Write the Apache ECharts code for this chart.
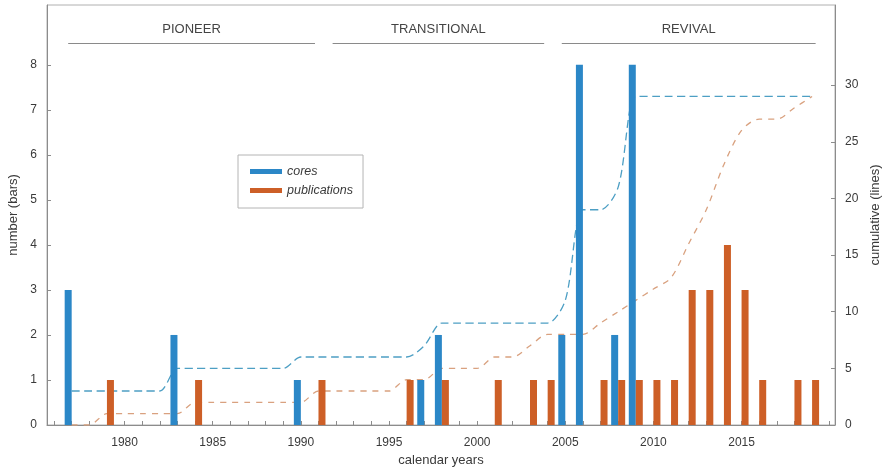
<!DOCTYPE html>
<html>
<head>
<meta charset="utf-8">
<script src="https://cdn.jsdelivr.net/npm/echarts@6/dist/echarts.min.js"></script>
<style>
  html, body { margin: 0; padding: 0; background: #ffffff; }
  #chart { width: 883px; height: 468px; }
</style>
</head>
<body>
<div id="chart"></div>
<script>
// Annual counts (bars)
const coreYears  = [1977, 1983, 1990, 1997, 1998, 2005, 2006, 2008, 2009];
const coreCounts = [3, 2, 1, 1, 2, 2, 8, 2, 8];

const pubYears  = [1979, 1984, 1991, 1996, 1998, 2001, 2003, 2004, 2007, 2008,
                   2009, 2010, 2011, 2012, 2013, 2014, 2015, 2016, 2018, 2019];
const pubCounts = [1, 1, 1, 1, 1, 1, 1, 1, 1, 1,
                   1, 1, 1, 3, 3, 4, 3, 1, 1, 1];

// Running totals (dashed lines), one value per year 1977–2019
const cumYears = [1977, 1978, 1979, 1980, 1981, 1982, 1983, 1984, 1985, 1986,
                  1987, 1988, 1989, 1990, 1991, 1992, 1993, 1994, 1995, 1996,
                  1997, 1998, 1999, 2000, 2001, 2002, 2003, 2004, 2005, 2006,
                  2007, 2008, 2009, 2010, 2011, 2012, 2013, 2014, 2015, 2016,
                  2017, 2018, 2019];
const coresCumulative = [3, 3, 3, 3, 3, 3, 5, 5, 5, 5,
                         5, 5, 5, 6, 6, 6, 6, 6, 6, 6,
                         7, 9, 9, 9, 9, 9, 9, 9, 11, 19,
                         19, 21, 29, 29, 29, 29, 29, 29, 29, 29,
                         29, 29, 29];
const pubsCumulative  = [0, 0, 1, 1, 1, 1, 1, 2, 2, 2,
                         2, 2, 2, 2, 3, 3, 3, 3, 3, 4,
                         4, 5, 5, 5, 6, 6, 7, 8, 8, 8,
                         9, 10, 11, 12, 13, 16, 19, 23, 26, 27,
                         27, 28, 29];

// Periods shown along the top of the plot
const periodNames = ['PIONEER', 'TRANSITIONAL', 'REVIVAL'];
const periodStart = [1977, 1992, 2005];
const periodEnd   = [1991, 2004, 2019.4];
const periodLevel = 8.48;

// Axis tick / label values
const xTickYears  = [];
for (let y = 1976; y <= 2020; y++) xTickYears.push(y);
const xLabelYears = [1980, 1985, 1990, 1995, 2000, 2005, 2010, 2015];
const leftTicks   = [0, 1, 2, 3, 4, 5, 6, 7, 8];
const rightTicks  = [0, 5, 10, 15, 20, 25, 30];

const BLUE = '#2b87c7';
const ORANGE = '#cd5f27';
const BLUE_LINE = '#4d9fc4';
const ORANGE_LINE = '#d9a17f';
const TEXT = '#3a3a3a';
const AXIS = '#8c8c8c';
const FONT = 'Liberation Sans, Arial, sans-serif';

const pair = (xs, vs) => xs.map((x, i) => [x, vs[i]]);

const chart = echarts.init(document.getElementById('chart'), null, { renderer: 'canvas' });

chart.setOption({
  animation: false,
  backgroundColor: '#ffffff',
  textStyle: { fontFamily: FONT },
  grid: {
    left: 47, right: 48, top: 5, bottom: 43,
    containLabel: false, outerBoundsMode: 'none',
    show: true, borderColor: '#b0b0b0', borderWidth: 1
  },
  legend: {
    data: ['cores', 'publications'],
    orient: 'vertical',
    left: 238, top: 155,
    icon: 'rect',
    itemWidth: 32, itemHeight: 5, itemGap: 6,
    padding: [10, 10, 11, 12],
    borderColor: '#b4b4b4', borderWidth: 1,
    backgroundColor: '#ffffff',
    textStyle: { fontStyle: 'italic', fontSize: 12.5, color: TEXT, fontFamily: FONT }
  },
  xAxis: {
    type: 'value',
    min: 1975.6, max: 2020.3,
    name: 'calendar years',
    nameLocation: 'middle', nameGap: 28,
    nameTextStyle: { fontSize: 13, color: TEXT },
    axisLine: { show: true, lineStyle: { color: AXIS } },
    axisTick: { show: true, inside: true, length: 4, customValues: xTickYears, lineStyle: { color: AXIS } },
    axisLabel: { customValues: xLabelYears, margin: 12, fontSize: 12, color: TEXT, formatter: v => String(v) },
    splitLine: { show: false }
  },
  yAxis: [
    {
      type: 'value', min: 0, max: 9.33,
      name: 'number (bars)', nameLocation: 'middle', nameGap: 25, nameRotate: 90,
      nameTextStyle: { fontSize: 13, color: TEXT },
      axisLine: { show: true, lineStyle: { color: AXIS } },
      axisTick: { show: true, inside: true, length: 4, customValues: leftTicks, lineStyle: { color: AXIS } },
      axisLabel: { customValues: leftTicks, margin: 10, fontSize: 12, color: TEXT },
      splitLine: { show: false }
    },
    {
      type: 'value', min: 0, max: 37.07, position: 'right',
      name: 'cumulative (lines)', nameLocation: 'middle', nameGap: 33, nameRotate: 90,
      nameTextStyle: { fontSize: 13, color: TEXT },
      axisLine: { show: true, lineStyle: { color: AXIS } },
      axisTick: { show: true, inside: true, length: 4, customValues: rightTicks, lineStyle: { color: AXIS } },
      axisLabel: { customValues: rightTicks, margin: 10, fontSize: 12, color: TEXT },
      splitLine: { show: false }
    }
  ],
  series: [
    {
      name: 'cores cumulative', type: 'line', yAxisIndex: 1, z: 1,
      data: pair(cumYears, coresCumulative),
      smooth: 0.3, showSymbol: false, symbol: 'none',
      lineStyle: { color: BLUE_LINE, width: 1.3, type: [8, 4.5] }
    },
    {
      name: 'publications cumulative', type: 'line', yAxisIndex: 1, z: 1,
      data: pair(cumYears, pubsCumulative),
      smooth: 0.3, showSymbol: false, symbol: 'none',
      lineStyle: { color: ORANGE_LINE, width: 1.3, type: [6, 6] }
    },
    {
      name: 'cores', type: 'bar', z: 3,
      data: pair(coreYears, coreCounts),
      barWidth: 7, barGap: '0%',
      itemStyle: { color: BLUE },
      markLine: {
        silent: true, symbol: 'none',
        lineStyle: { color: '#8a8a8a', width: 1.2, type: 'solid' },
        label: { show: true, position: 'insideMiddleTop', distance: 7, fontSize: 13, color: '#444', fontFamily: FONT,
                 formatter: p => p.name },
        emphasis: { disabled: true },
        data: periodNames.map((n, i) => [
          { name: n, coord: [periodStart[i], periodLevel] },
          { coord: [periodEnd[i], periodLevel] }
        ])
      }
    },
    {
      name: 'publications', type: 'bar', z: 3,
      data: pair(pubYears, pubCounts),
      barWidth: 7, barGap: '0%',
      itemStyle: { color: ORANGE }
    }
  ]
});
</script>
</body>
</html>
